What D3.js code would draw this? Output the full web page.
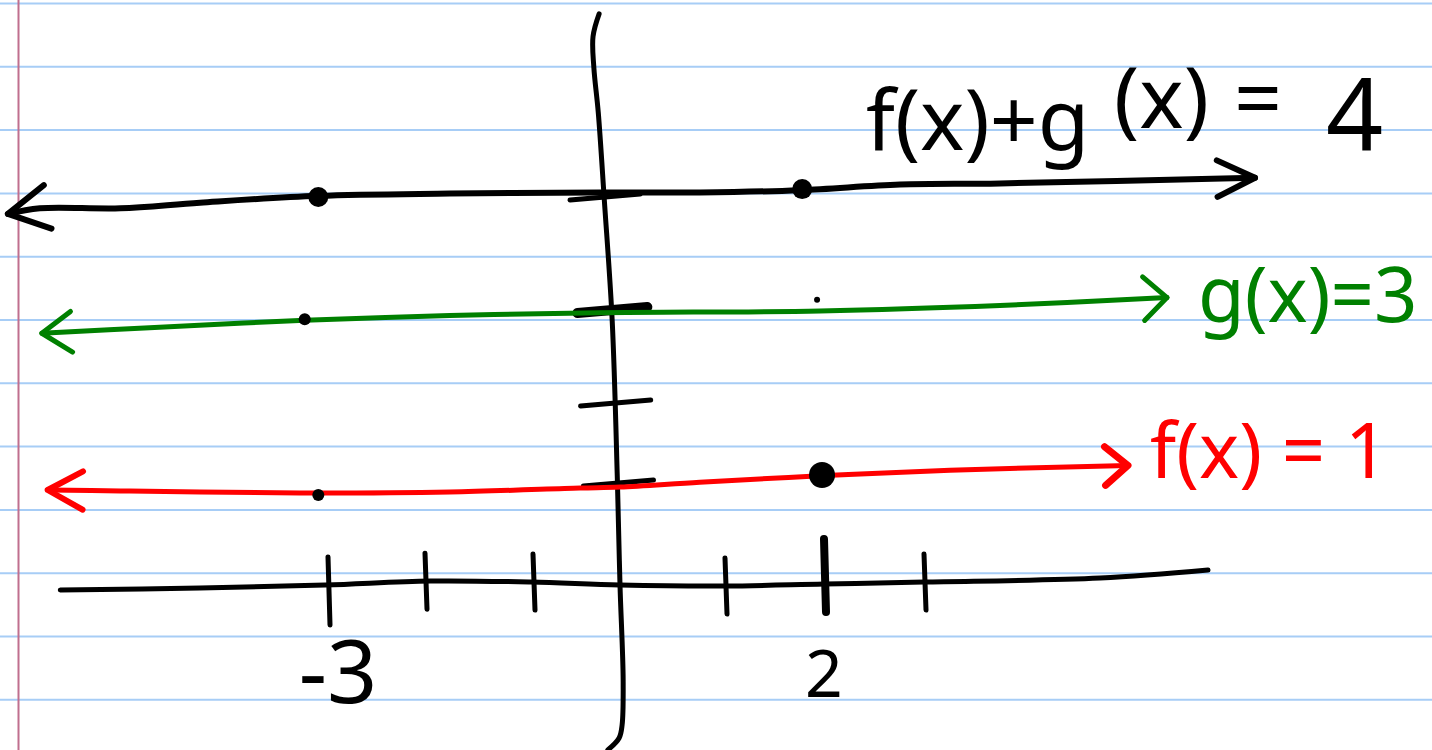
<!DOCTYPE html>
<html>
<head>
<meta charset="utf-8">
<script src="https://cdn.jsdelivr.net/npm/d3@7"></script>
<style>
  html, body { margin: 0; padding: 0; background: #fff; }
  svg { display: block; }
  text { font-family: "Noto Sans", "DejaVu Sans", sans-serif; }
</style>
</head>
<body>
<svg id="chart" width="1432" height="750"></svg>
<script>
// ============== DATA (graph units) ==============
const xTickVals = [-3, -2, -1, 1, 2, 3];
const yTickVals = [1, 2, 3, 4];
const xLabelVals = [-3, 2];
const xLabelText = ['-3', '2'];

// hand-drawn strokes, [x, y] in graph units
const xAxisPts = [[-5.76, -0.07], [-4.32, -0.05], [-3.03, -0.02], [-1.95, 0.02], [-1.02, 0.01],
                  [0, -0.02], [1, -0.03], [2, -0.01], [3, 0.01], [4.76, 0.05], [5.84, 0.13]];
const yAxisPts = [[-0.24, 5.62], [-0.31, 5.42], [-0.30, 5.14], [-0.25, 4.75], [-0.18, 3.97],
                  [-0.09, 2.89], [-0.03, 1.03], [0, -0.02], [0.03, -0.97], [0.02, -1.42],
                  [-0.01, -1.55], [-0.14, -1.67]];

const sumPts = [[-6.30, 3.85], [-5.97, 3.90], [-5.14, 3.90], [-4.32, 3.95], [-3.10, 4.01],
                [-1.77, 4.03], [-0.23, 4.04], [0.76, 4.04], [1.76, 4.06], [2.76, 4.11],
                [3.76, 4.12], [6.31, 4.17]];
const gPts   = [[-5.95, 2.75], [-4.84, 2.81], [-3.24, 2.89], [-1.77, 2.94], [-0.23, 2.97],
                [1.96, 2.99], [3.76, 3.04], [5.43, 3.11]];
const fPts   = [[-5.89, 0.93], [-5.14, 0.92], [-4.32, 0.91], [-3.29, 0.90], [-1.77, 0.91],
                [-0.46, 0.95], [0, 0.96], [0.76, 1.01], [1.96, 1.09], [3.26, 1.16], [5.04, 1.22]];

// plotted points [x, y]
const bigDots   = [[-3.10, 4.00], [1.78, 4.07], [1.98, 1.10]];
const smallDots = [[1.93, 3.09], [-3.24, 2.90], [-3.10, 0.88]];

// ============== CHART ==============
const svg = d3.select('#chart');
const W = 1432, H = 750;

// ruled notebook paper
const rules = d3.range(3.5, H, 63.3);
svg.append('g').selectAll('line').data(rules).join('line')
  .attr('x1', 0).attr('x2', W).attr('y1', d => d).attr('y2', d => d)
  .attr('stroke', '#a7cdf6').attr('stroke-width', 2);
svg.append('line').attr('x1', 18.5).attr('x2', 18.5).attr('y1', 0).attr('y2', H)
  .attr('stroke', '#c06f8e').attr('stroke-width', 2);

// hand-spaced ticks -> polylinear scales
const x = d3.scaleLinear().domain([-3, -2, -1, 0, 1, 2, 3]).range([328, 425, 533, 620, 725, 824, 924]);
const y = d3.scaleLinear().domain([0, 1, 2, 3, 4]).range([583, 483, 403, 310, 197]);

const line = d3.line().x(d => x(d[0])).y(d => y(d[1])).curve(d3.curveCatmullRom);

function stroke(pts, color, w) {
  svg.append('path').datum(pts)
    .attr('d', line)
    .attr('fill', 'none').attr('stroke', color).attr('stroke-width', w)
    .attr('stroke-linecap', 'round').attr('stroke-linejoin', 'round');
}

// open chevron at the end of a stroke
function arrow(pts, atEnd, color, w, len, spread) {
  const a = atEnd ? pts[pts.length - 1] : pts[0];
  const b = atEnd ? pts[pts.length - 2] : pts[1];
  const tx = x(a[0]), ty = y(a[1]);
  const ang = Math.atan2(y(b[1]) - ty, x(b[0]) - tx);
  const arms = [ang - spread, ang + spread].map(t => [tx + len * Math.cos(t), ty + len * Math.sin(t)]);
  svg.append('path')
    .attr('d', `M${arms[0][0]},${arms[0][1]} L${tx},${ty} L${arms[1][0]},${arms[1][1]}`)
    .attr('fill', 'none').attr('stroke', color).attr('stroke-width', w)
    .attr('stroke-linecap', 'round').attr('stroke-linejoin', 'round');
}

// axes
stroke(xAxisPts, '#000', 5);
stroke(yAxisPts, '#000', 5);

// x ticks
const axisYAt = d3.scaleLinear().domain(xAxisPts.map(d => d[0])).range(xAxisPts.map(d => y(d[1])));
svg.append('g').selectAll('line').data(xTickVals).join('line')
  .attr('x1', d => x(d)).attr('x2', d => x(d) + 2)
  .attr('y1', d => axisYAt(d) - (d === 2 ? 45 : 28))
  .attr('y2', d => axisYAt(d) + (d === -3 ? 40 : 28))
  .attr('stroke', '#000').attr('stroke-width', d => d === 2 ? 8 : 5)
  .attr('stroke-linecap', 'round');

// y ticks (centred on the wobbly y axis)
const yAxisCore = yAxisPts.slice(3, 9);
const axisXAt = d3.scaleLinear().domain(yAxisCore.map(d => d[1])).range(yAxisCore.map(d => x(d[0])));
svg.append('g').selectAll('line').data(yTickVals).join('line')
  .attr('x1', d => axisXAt(d) - 34).attr('x2', d => axisXAt(d) + 36)
  .attr('y1', d => y(d) + 3).attr('y2', d => y(d) - 3)
  .attr('stroke', '#000').attr('stroke-width', d => d === 3 ? 10 : 5)
  .attr('stroke-linecap', 'round');

// function lines
stroke(fPts, '#ff0000', 5);
arrow(fPts, false, '#ff0000', 6, 40, 0.5);
arrow(fPts, true, '#ff0000', 7, 30, 0.7);

stroke(gPts, '#008000', 5);
arrow(gPts, false, '#008000', 5, 36, 0.6);
arrow(gPts, true, '#008000', 5, 32, 0.75);

stroke(sumPts, '#000', 6);
arrow(sumPts, false, '#000', 6, 46, 0.5);
arrow(sumPts, true, '#000', 6, 42, 0.45);

// points
svg.append('g').selectAll('circle').data(bigDots).join('circle')
  .attr('cx', d => x(d[0])).attr('cy', d => y(d[1]))
  .attr('r', (d, i) => i === 2 ? 13 : 10).attr('fill', '#000');
svg.append('g').selectAll('circle').data(smallDots).join('circle')
  .attr('cx', d => x(d[0])).attr('cy', d => y(d[1]))
  .attr('r', (d, i) => i === 0 ? 3 : 6).attr('fill', '#000');

// tick labels
svg.append('g').selectAll('text').data(xLabelVals).join('text')
  .attr('x', d => x(d) + (d === -3 ? 10 : 0)).attr('y', d => d === -3 ? 703 : 697)
  .attr('text-anchor', 'middle')
  .attr('font-size', d => d === -3 ? 88 : 66)
  .attr('fill', '#000')
  .text((d, i) => xLabelText[i]);

// function labels
const sumLab = svg.append('text').attr('y', 150).attr('font-size', 84).attr('fill', '#000');
sumLab.append('tspan').attr('x', 866).text('f(x)+g');
sumLab.append('tspan').attr('x', 1114).attr('dy', -22).text('(x)');
sumLab.append('tspan').attr('x', 1234).text('=');
sumLab.append('tspan').attr('x', 1326).attr('dy', 22).attr('font-size', 100).text('4');

svg.append('text').attr('x', 1198).attr('y', 322).attr('font-size', 76)
  .attr('fill', '#008000').text('g(x)=3');
svg.append('text').attr('x', 1150).attr('y', 478).attr('font-size', 76)
  .attr('fill', '#ff0000').text('f(x) = 1');
</script>
</body>
</html>
